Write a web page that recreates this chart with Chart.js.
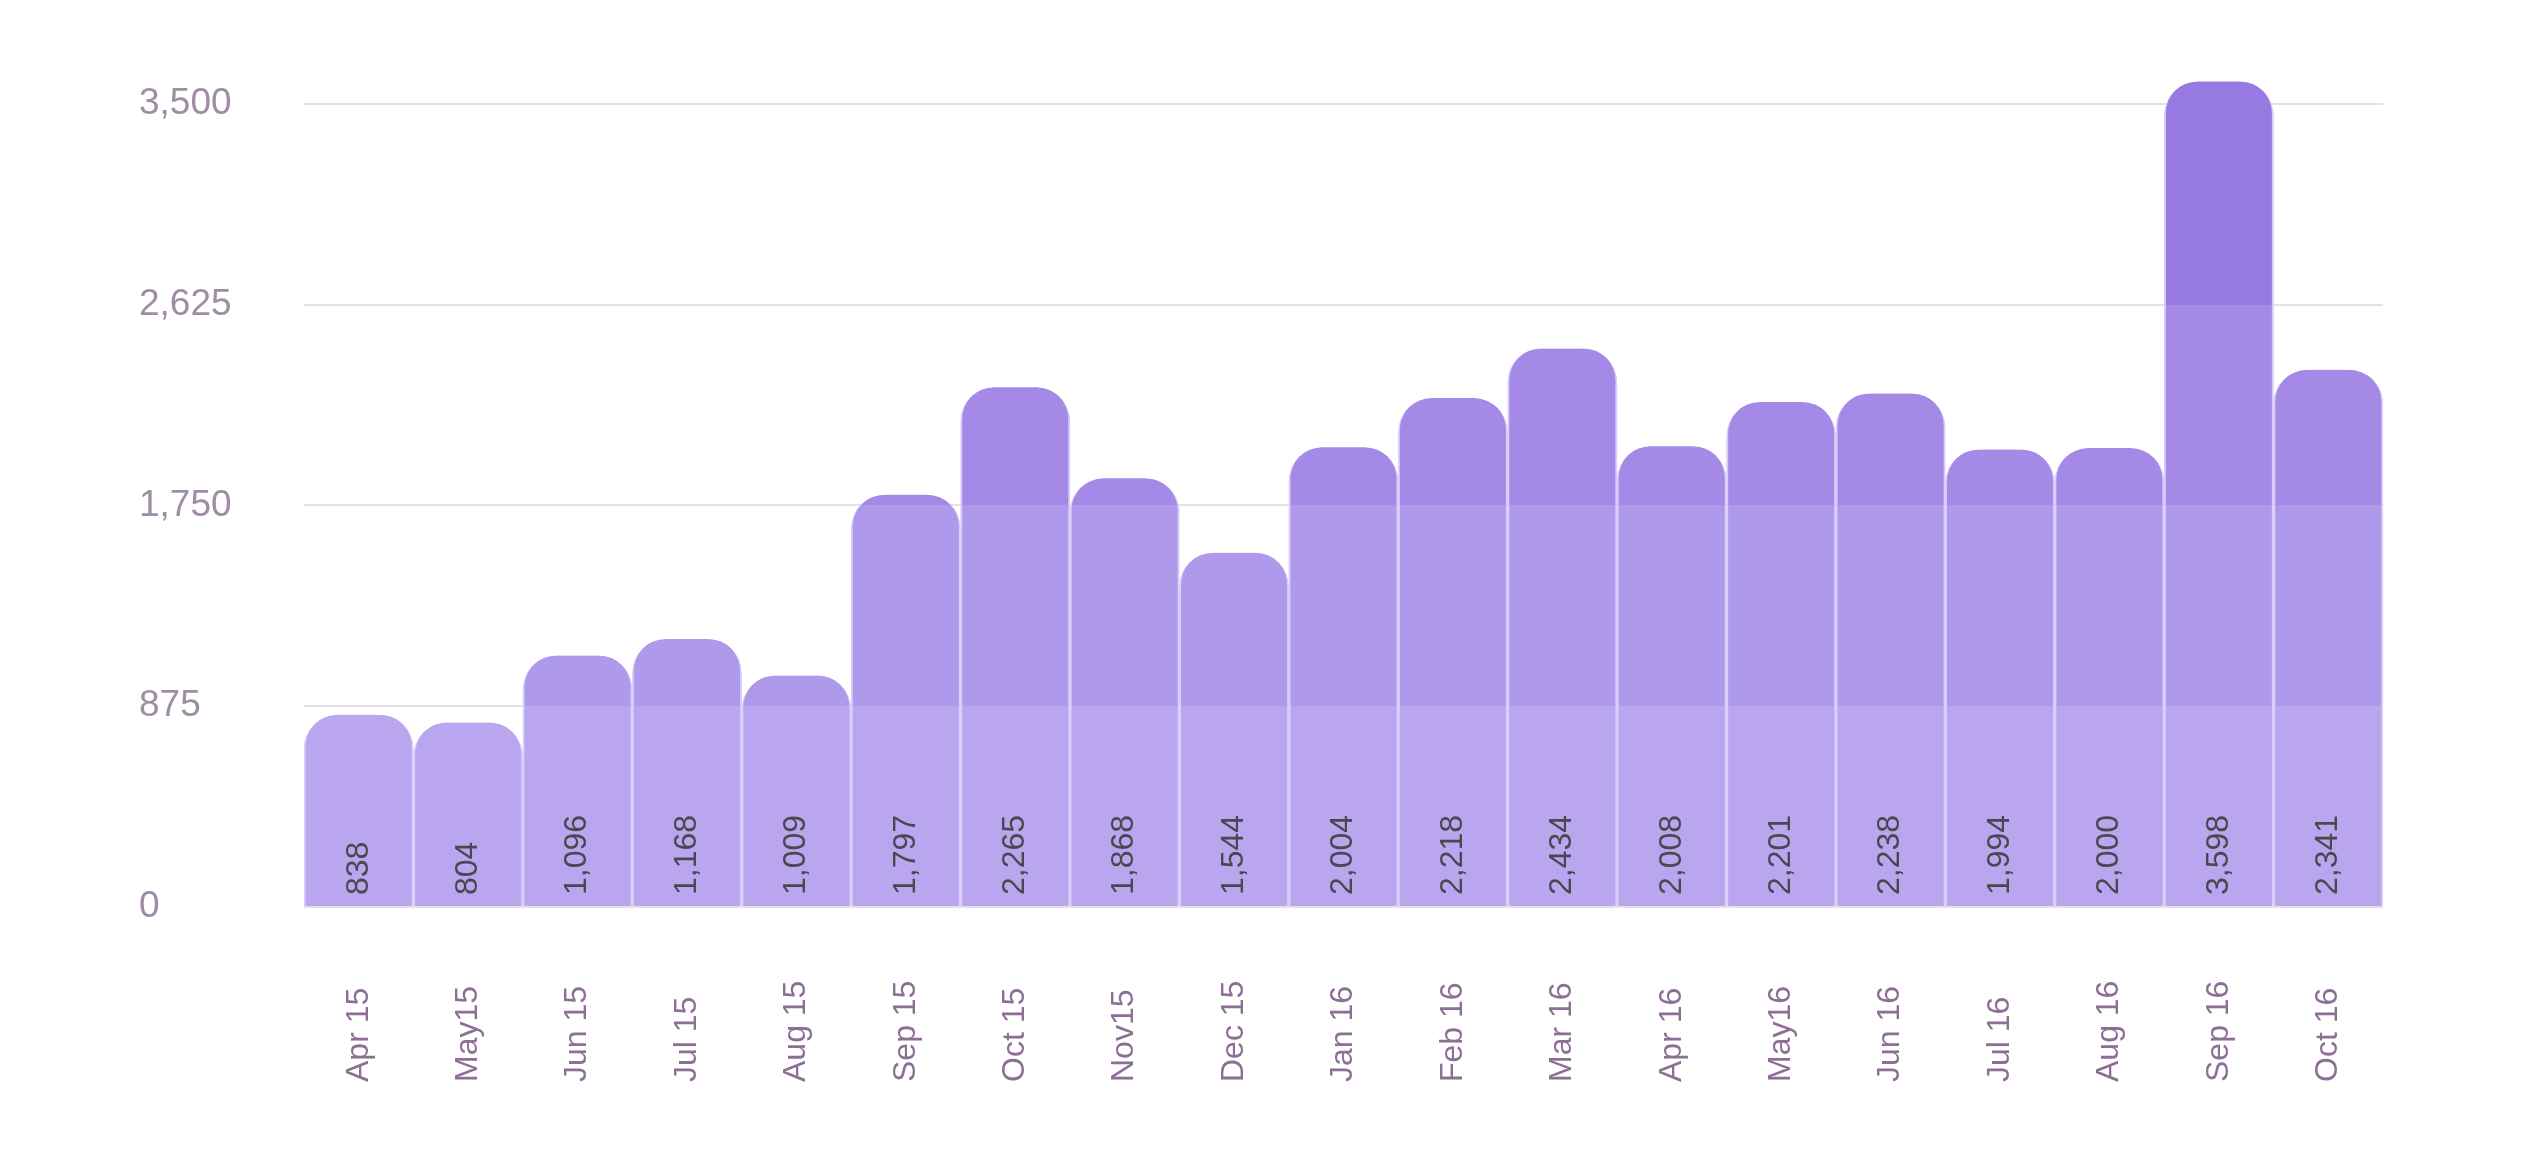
<!DOCTYPE html>
<html>
<head>
<meta charset="utf-8">
<title>Monthly totals</title>
<script src="https://cdn.jsdelivr.net/npm/chart.js@4/dist/chart.umd.min.js"></script>
<style>
    html, body { margin: 0; padding: 0; background: #ffffff; }
    .chart-wrap { position: relative; width: 2535px; height: 1162px; }
</style>
</head>
<body>
<div class="chart-wrap"><canvas id="monthlyChart"></canvas></div>
<script>
// Chart data
const categories = ['Apr 15', 'May15', 'Jun 15', 'Jul 15', 'Aug 15', 'Sep 15', 'Oct 15', 'Nov15', 'Dec 15',
    'Jan 16', 'Feb 16', 'Mar 16', 'Apr 16', 'May16', 'Jun 16', 'Jul 16', 'Aug 16', 'Sep 16', 'Oct 16'];
const values = [838, 804, 1096, 1168, 1009, 1797, 2265, 1868, 1544, 2004, 2218, 2434, 2008, 2201, 2238, 1994, 2000, 3598, 2341];
const yTicks = [0, 875, 1750, 2625, 3500];
const yMax = 3700;

// one shade per band between the gridlines, darker going up
const bandColors = ['#b9a6ee', '#ae99ea', '#a48ae6', '#977be2'];
const fontFamily = "'Liberation Sans', Arial, sans-serif";

document.addEventListener('DOMContentLoaded', function() {
    initChart();
});

// Stepped fill following the y scale bands
function bandFill(context) {
    const chart = context.chart;
    const yScale = chart.scales.y;
    if (!chart.chartArea || !yScale) {
        return bandColors[0];
    }
    const y0 = yScale.getPixelForValue(0);
    const y1 = yScale.getPixelForValue(yMax);
    const grad = chart.ctx.createLinearGradient(0, y0, 0, y1);
    grad.addColorStop(0, bandColors[0]);
    for (let i = 1; i < yTicks.length - 1; i++) {
        const f = yTicks[i] / yMax;
        grad.addColorStop(f, bandColors[i - 1]);
        grad.addColorStop(f, bandColors[i]);
    }
    grad.addColorStop(1, bandColors[bandColors.length - 1]);
    return grad;
}

// Value labels inside the bars, rotated
const valueLabels = {
    id: 'valueLabels',
    afterDatasetsDraw(chart) {
        const ctx = chart.ctx;
        const meta = chart.getDatasetMeta(0);
        const base = chart.scales.y.getPixelForValue(0);
        ctx.save();
        ctx.font = '32px ' + fontFamily;
        ctx.fillStyle = '#4a4750';
        ctx.textAlign = 'left';
        ctx.textBaseline = 'middle';
        meta.data.forEach((bar, i) => {
            ctx.save();
            ctx.translate(bar.x, base - 12);
            ctx.rotate(-Math.PI / 2);
            ctx.fillText(values[i].toLocaleString('en-US'), 0, 0);
            ctx.restore();
        });
        ctx.restore();
    }
};

// Month labels, rotated and aligned at their start
const monthLabels = {
    id: 'monthLabels',
    afterDraw(chart) {
        const ctx = chart.ctx;
        const xScale = chart.scales.x;
        const startY = chart.scales.y.getPixelForValue(0) + 175;
        ctx.save();
        ctx.font = '32px ' + fontFamily;
        ctx.fillStyle = '#8d6f96';
        ctx.textAlign = 'left';
        ctx.textBaseline = 'middle';
        categories.forEach((label, i) => {
            ctx.save();
            ctx.translate(xScale.getPixelForValue(i), startY);
            ctx.rotate(-Math.PI / 2);
            ctx.fillText(label, 0, 0);
            ctx.restore();
        });
        ctx.restore();
    }
};

function initChart() {
    const ctx = document.getElementById('monthlyChart').getContext('2d');

    const data = {
        labels: categories,
        datasets: [{
            data: values,
            backgroundColor: bandFill,
            borderColor: '#d8cdfb',
            borderWidth: { left: 2, right: 2, top: 0, bottom: 0 },
            borderRadius: { topLeft: 34, topRight: 34, bottomLeft: 0, bottomRight: 0 },
            borderSkipped: false,
            barPercentage: 1,
            categoryPercentage: 1
        }]
    };

    const config = {
        type: 'bar',
        data: data,
        plugins: [valueLabels, monthLabels],
        options: {
            responsive: true,
            maintainAspectRatio: false,
            devicePixelRatio: 1,
            animation: false,
            layout: {
                padding: { left: 139, right: 152, top: 58, bottom: 0 }
            },
            plugins: {
                legend: { display: false },
                tooltip: { enabled: false }
            },
            scales: {
                x: {
                    grid: { display: false },
                    border: { display: false },
                    ticks: { display: false },
                    afterFit: function(scale) {
                        scale.height = 255;
                    }
                },
                y: {
                    min: 0,
                    max: yMax,
                    afterBuildTicks: function(scale) {
                        scale.ticks = yTicks.map(v => ({ value: v }));
                    },
                    afterFit: function(scale) {
                        scale.width = 165;
                    },
                    grid: {
                        color: '#e3e1e6',
                        lineWidth: 2,
                        drawTicks: false
                    },
                    border: { display: false },
                    ticks: {
                        crossAlign: 'far',
                        padding: 0,
                        color: '#9f8da6',
                        font: { family: fontFamily, size: 37 },
                        callback: function(value) {
                            return value.toLocaleString('en-US');
                        }
                    }
                }
            }
        }
    };

    new Chart(ctx, config);
}
</script>
</body>
</html>
